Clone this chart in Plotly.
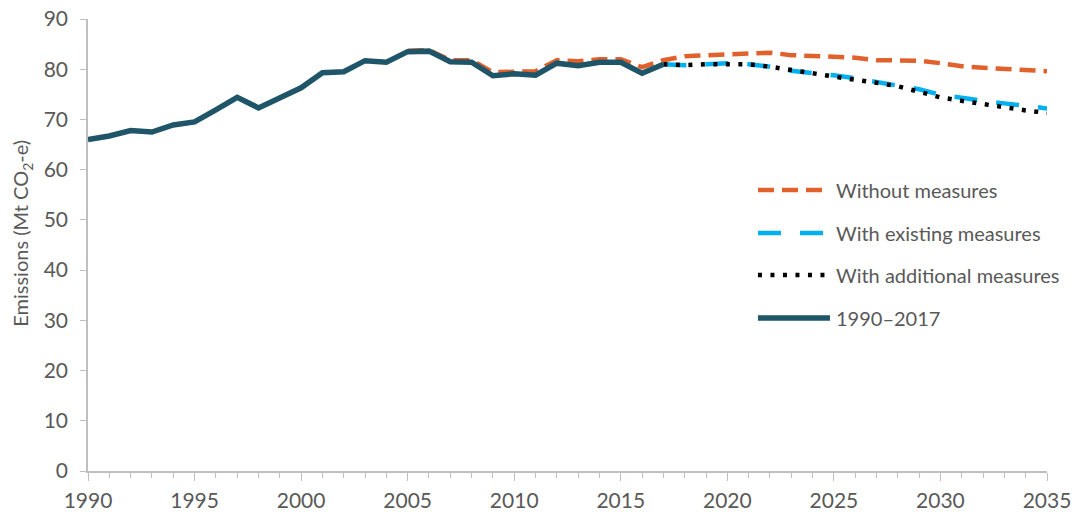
import plotly.graph_objects as go

hist_years = list(range(1990, 2018))
hist_vals = [66.0, 66.7, 67.8, 67.5, 68.9, 69.5, 71.9, 74.4, 72.3, 74.2,
             76.3, 79.3, 79.5, 81.7, 81.4, 83.5, 83.6, 81.5, 81.4, 78.7,
             79.1, 78.8, 81.2, 80.7, 81.4, 81.4, 79.2, 81.0]

wom_years = list(range(2005, 2036))
wom_vals = [83.7, 83.8, 81.8, 81.8, 79.4, 79.5, 79.6, 81.8, 81.6, 82.0,
            82.0, 80.4, 81.8, 82.6, 82.8, 83.1, 83.3, 83.3, 82.8, 82.6,
            82.6, 82.3, 81.8, 81.8, 81.7, 81.2, 80.6, 80.3, 80.0, 79.7, 79.6]

proj_years = list(range(2017, 2036))
wem_vals = [81.0, 80.8, 81.0, 81.2, 81.0, 80.5, 79.7, 79.3, 78.8, 78.2,
            77.5, 76.9, 76.0, 74.9, 74.2, 73.7, 73.2, 72.7, 72.2]
wam_vals = [81.0, 80.8, 81.0, 81.1, 81.0, 80.5, 79.8, 79.2, 78.6, 77.9,
            77.3, 76.6, 75.5, 74.4, 73.7, 73.0, 72.5, 71.8, 71.3]

series_names = ["Without measures", "With existing measures",
                "With additional measures", "1990\u20132017"]
colors = ["#E0612B", "#00B0F0", "#000000", "#1F5569"]
dashes = ["16px,8px", "23px,19px", "4px,8.5px", "solid"]
widths = [4.5, 4.5, 4.5, 5.5]

fig = go.Figure()
fig.add_trace(go.Scatter(x=wom_years, y=wom_vals, mode="lines", name=series_names[0],
                         line=dict(color=colors[0], width=widths[0], dash=dashes[0])))
fig.add_trace(go.Scatter(x=proj_years, y=wem_vals, mode="lines", name=series_names[1],
                         line=dict(color=colors[1], width=widths[1], dash=dashes[1])))
fig.add_trace(go.Scatter(x=proj_years, y=wam_vals, mode="lines", name=series_names[2],
                         line=dict(color=colors[2], width=widths[2], dash=dashes[2])))
fig.add_trace(go.Scatter(x=hist_years, y=hist_vals, mode="lines", name=series_names[3],
                         line=dict(color=colors[3], width=widths[3], dash=dashes[3])))

font_family = "Lato, Open Sans, sans-serif"

# manual legend
leg_y = [0.6217, 0.5265, 0.4336, 0.3385]
for name, c, d, w, yy in zip(series_names, colors, dashes, widths, leg_y):
    fig.add_shape(type="line", xref="paper", yref="paper", x0=0.6986, x1=0.7737,
                  y0=yy, y1=yy, line=dict(color=c, width=w, dash=d))
    fig.add_annotation(xref="paper", yref="paper", x=0.778, y=yy, text=name,
                       showarrow=False, xanchor="left", yanchor="middle",
                       font=dict(family=font_family, size=20, color="#595959"))

# y-axis title
fig.add_annotation(xref="paper", yref="paper", x=-0.0688, y=0.525,
                   text="Emissions (Mt CO<sub>2</sub>-e)", textangle=-90, showarrow=False,
                   xanchor="center", yanchor="middle",
                   font=dict(family=font_family, size=20, color="#595959"))

axis_font = dict(family=font_family, size=21, color="#595959")
fig.update_layout(
    width=1074, height=515,
    margin=dict(l=88, r=27, t=19, b=44),
    paper_bgcolor="white", plot_bgcolor="white",
    showlegend=False,
    font=axis_font,
    xaxis=dict(range=[1990, 2035], tickmode="linear", tick0=1990, dtick=5, automargin=False,
               showgrid=False, zeroline=False, showline=True, linecolor="#BFBFBF", linewidth=1.5,
               ticks="outside", ticklen=8, tickcolor="#BFBFBF", tickfont=axis_font,
               ticklabelstandoff=2, ticklabeloverflow="allow",
               minor=dict(dtick=1, tick0=1990, ticks="outside", ticklen=5, tickcolor="#BFBFBF", showgrid=False)),
    yaxis=dict(range=[0, 90], tickmode="linear", tick0=0, dtick=10, automargin=False,
               showgrid=False, zeroline=False, showline=True, linecolor="#BFBFBF", linewidth=1.5,
               ticks="outside", ticklen=6, tickcolor="#BFBFBF", tickfont=axis_font,
               ticklabelstandoff=8, ticklabeloverflow="allow"),
)

fig.write_html("out.html", config={"displayModeBar": False},
               post_script="document.body.style.margin='0';document.body.style.overflow='hidden';")
